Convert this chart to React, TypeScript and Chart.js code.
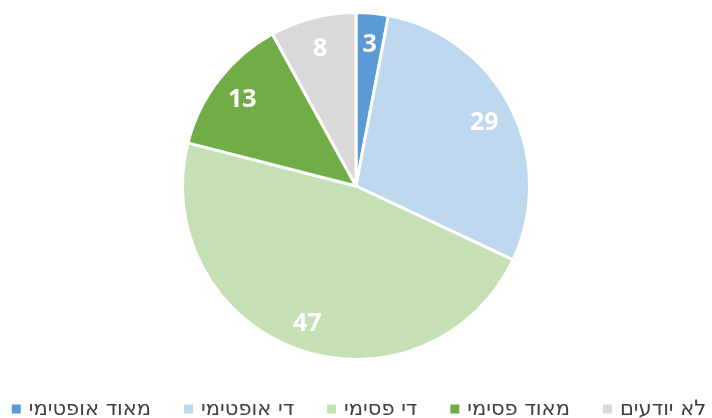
import React, { useEffect, useRef } from "react";
import { Chart, registerables } from "chart.js";

Chart.register(...registerables);

const labels = ["מאוד אופטימי", "די אופטימי", "די פסימי", "מאוד פסימי", "לא יודעים"];
const values = [3, 29, 47, 13, 8];
const colors = ["#5B9BD5", "#BDD7EE", "#C5E0B4", "#70AD47", "#D9D9D9"];

const LEGEND_FONT = "21px 'DejaVu Sans', sans-serif";

const labelPlugin = {
  id: "sliceLabels",
  afterDatasetsDraw(chart: any) {
    const ctx = chart.ctx;
    const meta = chart.getDatasetMeta(0);
    ctx.save();
    ctx.fillStyle = "#FFFFFF";
    ctx.font = "bold 25px 'Open Sans', sans-serif";
    ctx.textAlign = "center";
    ctx.textBaseline = "middle";
    meta.data.forEach((arc: any, i: number) => {
      const p = arc.getProps(["x", "y", "startAngle", "endAngle", "outerRadius"], true);
      const mid = (p.startAngle + p.endAngle) / 2;
      const r = p.outerRadius * 0.83;
      ctx.fillText(String(values[i]), p.x + Math.cos(mid) * r, p.y + Math.sin(mid) * r + 2);
    });
    ctx.restore();
  },
};

const legendPlugin = {
  id: "customLegend",
  afterDraw(chart: any) {
    const ctx = chart.ctx;
    ctx.save();
    ctx.font = LEGEND_FONT;
    ctx.direction = "rtl";
    ctx.textBaseline = "middle";
    ctx.textAlign = "left";
    const box = 9;
    const gapBoxText = 8;
    const gapItems = 33;
    const widths = labels.map((l) => ctx.measureText(l).width);
    let total = 0;
    widths.forEach((w, i) => {
      total += box + gapBoxText + w + (i < labels.length - 1 ? gapItems : 0);
    });
    let x = chart.width / 2 - total / 2 + 3;
    const y = 409;
    labels.forEach((l, i) => {
      ctx.fillStyle = colors[i];
      ctx.fillRect(x, y - box / 2, box, box);
      x += box + gapBoxText;
      ctx.fillStyle = "#404040";
      ctx.fillText(l, x, y + 1);
      x += widths[i] + gapItems;
    });
    ctx.restore();
  },
};

export default function App() {
  const ref = useRef<HTMLCanvasElement | null>(null);
  useEffect(() => {
    document.body.style.margin = "0";
    const chart = new Chart(ref.current as HTMLCanvasElement, {
      type: "pie",
      data: {
        labels,
        datasets: [
          {
            data: values,
            backgroundColor: colors,
            borderColor: "#FFFFFF",
            borderWidth: 3,
          },
        ],
      },
      options: {
        responsive: false,
        animation: false,
        layout: { padding: { top: 11, bottom: 57, left: 0, right: 0 } },
        plugins: {
          legend: { display: false },
          tooltip: { enabled: false },
        },
      },
      plugins: [labelPlugin, legendPlugin],
    });
    return () => chart.destroy();
  }, []);
  return (
    <div style={{ width: 712, height: 418, background: "#fff" }}>
      <canvas ref={ref} width={712} height={418} />
    </div>
  );
}
